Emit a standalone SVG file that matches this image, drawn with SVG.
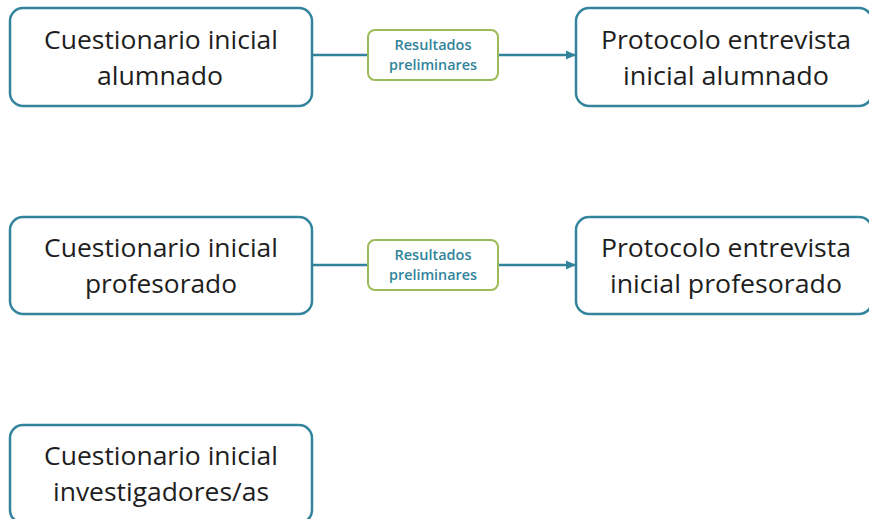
<svg xmlns="http://www.w3.org/2000/svg" width="869" height="519" viewBox="0 0 869 519">
<defs>
<style>
.box{fill:#ffffff;stroke:#31849B;stroke-width:2.5}
.lbl{fill:#ffffff;stroke:#9BBB59;stroke-width:2}
.t{font-family:"Open Sans","Liberation Sans",sans-serif;font-size:25px;fill:#1e1e1e;text-anchor:middle}
.s{font-family:"Open Sans","Liberation Sans",sans-serif;font-size:13.5px;font-weight:600;fill:#31849B;text-anchor:middle}
.c{stroke:#31849B;stroke-width:2.5;fill:none}
</style>
<marker id="ah" markerWidth="10" markerHeight="10" refX="9" refY="5" orient="auto" markerUnits="userSpaceOnUse">
<path d="M0,0.5 L10,5 L0,9.5 Z" fill="#31849B"/>
</marker>
</defs>
<rect width="869" height="519" fill="#ffffff"/>
<g id="connectors">
<path class="c" d="M312,55 L368,55"/>
<path class="c" d="M498,55 L575,55" marker-end="url(#ah)"/>
<path class="c" d="M312,265 L368,265"/>
<path class="c" d="M498,265 L575,265" marker-end="url(#ah)"/>
</g>
<g id="n1">
<rect class="box" x="10" y="8" width="302" height="98" rx="13"/>
<text class="t" x="161" y="49" textLength="234" lengthAdjust="spacingAndGlyphs">Cuestionario inicial</text>
<text class="t" x="160" y="85" textLength="126" lengthAdjust="spacingAndGlyphs">alumnado</text>
</g>
<g id="l1">
<rect class="lbl" x="368" y="30" width="130" height="50" rx="7"/>
<text class="s" x="433" y="50" textLength="77" lengthAdjust="spacingAndGlyphs">Resultados</text>
<text class="s" x="433" y="70" textLength="88" lengthAdjust="spacingAndGlyphs">preliminares</text>
</g>
<g id="n2">
<rect class="box" x="576" y="8" width="296" height="98" rx="13"/>
<text class="t" x="726" y="49" textLength="250" lengthAdjust="spacingAndGlyphs">Protocolo entrevista</text>
<text class="t" x="726" y="85" textLength="206" lengthAdjust="spacingAndGlyphs">inicial alumnado</text>
</g>
<g id="n3">
<rect class="box" x="10" y="217" width="302" height="97" rx="13"/>
<text class="t" x="161" y="257" textLength="234" lengthAdjust="spacingAndGlyphs">Cuestionario inicial</text>
<text class="t" x="161" y="293" textLength="152" lengthAdjust="spacingAndGlyphs">profesorado</text>
</g>
<g id="l2">
<rect class="lbl" x="368" y="240" width="130" height="50" rx="7"/>
<text class="s" x="433" y="260" textLength="77" lengthAdjust="spacingAndGlyphs">Resultados</text>
<text class="s" x="433" y="280" textLength="88" lengthAdjust="spacingAndGlyphs">preliminares</text>
</g>
<g id="n4">
<rect class="box" x="576" y="217" width="296" height="97" rx="13"/>
<text class="t" x="726" y="257" textLength="250" lengthAdjust="spacingAndGlyphs">Protocolo entrevista</text>
<text class="t" x="726" y="293" textLength="232" lengthAdjust="spacingAndGlyphs">inicial profesorado</text>
</g>
<g id="n5">
<rect class="box" x="10" y="425" width="302" height="98" rx="13"/>
<text class="t" x="161" y="465" textLength="234" lengthAdjust="spacingAndGlyphs">Cuestionario inicial</text>
<text class="t" x="161" y="501" textLength="216" lengthAdjust="spacingAndGlyphs">investigadores/as</text>
</g>
</svg>
